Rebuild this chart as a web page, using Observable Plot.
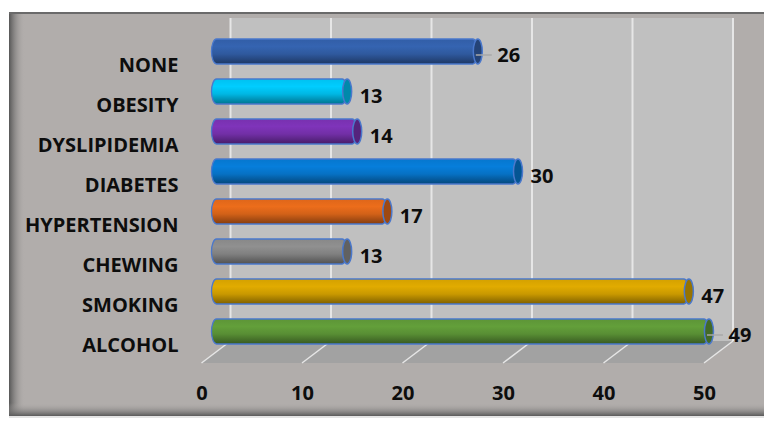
<!DOCTYPE html>
<html>
<head>
<meta charset="utf-8">
<script src="https://cdn.jsdelivr.net/npm/d3@7"></script>
<script src="https://cdn.jsdelivr.net/npm/@observablehq/plot@0.6"></script>
<style>
  html, body { margin: 0; padding: 0; background: #ffffff; }
  #chart svg { display: block; }
</style>
</head>
<body>
<div id="chart"></div>
<script>
// ---- data ----
const categories = ["NONE", "OBESITY", "DYSLIPIDEMIA", "DIABETES", "HYPERTENSION", "CHEWING", "SMOKING", "ALCOHOL"];
const values = [26, 13, 14, 30, 17, 13, 47, 49];
const barColors = ["#3360aa", "#00c4f4", "#7a32b2", "#0679d2", "#e2681a", "#8a8a8a", "#d8a400", "#5f9838"];
const xTicks = [0, 10, 20, 30, 40, 50];
const leaderCats = ["NONE", "ALCOHOL"];

const rows = categories.map((c, i) => ({ cat: c, value: values[i] }));

const FONT = "'Open Sans', 'Liberation Sans', sans-serif";
const DEPTH_BAR = 15;   // bar depth offset (px) in the pseudo-3D
const DEPTH_BACK = 29;  // back wall offset (px)

function decor(index, scales, values, dims) {
  const x = scales.x;
  const W = dims.width, H = dims.height;
  const g = d3.create("svg:g");
  const defs = g.append("defs");
  // bar gradients
  barColors.forEach((col, i) => {
    const c = d3.color(col);
    const lg = defs.append("linearGradient").attr("id", "bg" + i)
      .attr("x1", 0).attr("y1", 0).attr("x2", 0).attr("y2", 1);
    lg.append("stop").attr("offset", "0%").attr("stop-color", c.darker(0.05).formatHex());
    lg.append("stop").attr("offset", "30%").attr("stop-color", c.brighter(0.12).formatHex());
    lg.append("stop").attr("offset", "60%").attr("stop-color", c.darker(0.2).formatHex());
    lg.append("stop").attr("offset", "100%").attr("stop-color", c.darker(1.5).formatHex());
  });
  const ls = defs.append("linearGradient").attr("id", "leftShadow").attr("x1", 0).attr("x2", 1).attr("y1", 0).attr("y2", 0);
  ls.append("stop").attr("offset", "0%").attr("stop-color", "#565656");
  ls.append("stop").attr("offset", "100%").attr("stop-color", "#b1adab").attr("stop-opacity", 0);
  const bs = defs.append("linearGradient").attr("id", "botShadow").attr("x1", 0).attr("x2", 0).attr("y1", 0).attr("y2", 1);
  bs.append("stop").attr("offset", "0%").attr("stop-color", "#b1adab").attr("stop-opacity", 0);
  bs.append("stop").attr("offset", "100%").attr("stop-color", "#5a5a5a");

  // outer frame
  g.append("rect").attr("x", 9).attr("y", 12).attr("width", W - 9).attr("height", 404).attr("fill", "#b1adab");
  g.append("rect").attr("x", 9).attr("y", 12).attr("width", 16).attr("height", 404).attr("fill", "url(#leftShadow)");
  g.append("rect").attr("x", 9).attr("y", 403).attr("width", W - 9).attr("height", 13).attr("fill", "url(#botShadow)");
  g.append("rect").attr("x", 9).attr("y", 12).attr("width", W - 9).attr("height", 2).attr("fill", "#6a6a6a");
  g.append("rect").attr("x", 9).attr("y", 416).attr("width", W - 9).attr("height", 2).attr("fill", "#e4e4e4");

  // back wall
  const wx0 = x(xTicks[0]) + DEPTH_BACK, wx1 = x(xTicks[xTicks.length - 1]) + DEPTH_BACK;
  const wallTop = 18, wallBot = 341, floorFront = 363;
  g.append("rect").attr("x", wx0).attr("y", wallTop).attr("width", wx1 - wx0).attr("height", wallBot - wallTop).attr("fill", "#c0c0c0");
  // floor
  g.append("polygon")
    .attr("points", [[wx0, wallBot], [wx1, wallBot], [x(xTicks[xTicks.length - 1]), floorFront], [x(xTicks[0]), floorFront]].map(p => p.join(",")).join(" "))
    .attr("fill", "#a2a2a2");
  // gridlines on wall and floor
  xTicks.forEach(t => {
    g.append("line").attr("x1", x(t) + DEPTH_BACK).attr("x2", x(t) + DEPTH_BACK).attr("y1", wallTop).attr("y2", wallBot)
      .attr("stroke", "#e6e6e6").attr("stroke-width", 2);
    g.append("line").attr("x1", x(t) + DEPTH_BACK).attr("x2", x(t)).attr("y1", wallBot).attr("y2", floorFront)
      .attr("stroke", "#e6e6e6").attr("stroke-width", 1.5);
  });
  return g.node();
}

const chart = Plot.plot({
  width: 764,
  height: 428,
  marginTop: 0, marginRight: 0, marginBottom: 0, marginLeft: 0,
  style: { background: "transparent", fontFamily: FONT },
  x: { domain: [0, 50], range: [201.5, 704], axis: null },
  y: { domain: categories, range: [30.93, 352.05], paddingInner: 0.377, paddingOuter: 0.1885, align: 0.5, axis: null },
  color: { domain: categories, range: categories.map((c, i) => `url(#bg${i})`) },
  marks: [
    decor,
    // cylinder bodies
    Plot.barX(rows, {
      x1: 0, x2: "value", y: "cat", fill: "cat",
      dx: DEPTH_BAR, insetLeft: -5, rx: 5, ry: 12.5,
      stroke: "#4a78cc", strokeWidth: 1.3
    }),
    // cylinder end caps
    Plot.barX(rows, {
      x1: "value", x2: "value", y: "cat",
      fill: (d) => d3.color(barColors[categories.indexOf(d.cat)]).darker(1).formatHex(),
      dx: DEPTH_BAR, insetLeft: -4.5, insetRight: -4.5, rx: 4.5, ry: 12.5,
      stroke: "#4a78cc", strokeWidth: 1.5
    }),
    // leader lines
    Plot.ruleY(rows.filter(d => leaderCats.includes(d.cat)), {
      x1: "value", x2: "value", y: "cat", dx: DEPTH_BAR, dy: 3,
      insetLeft: -2, insetRight: -14, stroke: "#a8a8a8", strokeWidth: 1.5
    }),
    // value labels
    Plot.text(rows.filter(d => !leaderCats.includes(d.cat)), {
      x: "value", y: "cat", text: d => String(d.value),
      dx: DEPTH_BAR + 12, dy: 4.5, textAnchor: "start",
      fontSize: 20, fontWeight: "bold", fill: "#0d0d0d"
    }),
    Plot.text(rows.filter(d => leaderCats.includes(d.cat)), {
      x: "value", y: "cat", text: d => String(d.value),
      dx: DEPTH_BAR + 19, dy: 4, textAnchor: "start",
      fontSize: 20, fontWeight: "bold", fill: "#0d0d0d"
    }),
    // category labels
    Plot.text(categories, {
      x: () => 0, y: d => d, text: d => d,
      dx: -23.5, dy: 13.5, textAnchor: "end",
      fontSize: 20, fontWeight: "bold", fill: "#0d0d0d"
    }),
    // x tick labels
    Plot.text(xTicks, {
      x: d => d, text: d => String(d), frameAnchor: "bottom", lineAnchor: "middle", dy: -35,
      fontSize: 20, fontWeight: "bold", fill: "#0d0d0d"
    })
  ]
});

document.getElementById("chart").appendChild(chart);
</script>
</body>
</html>
